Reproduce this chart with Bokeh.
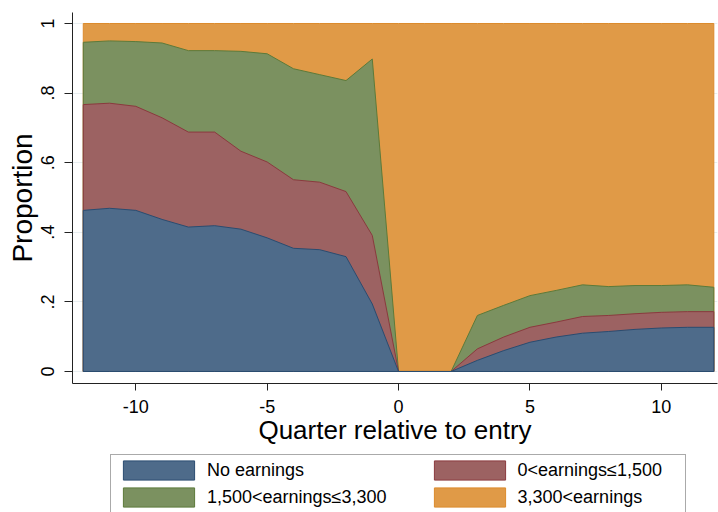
import numpy as np
from bokeh.plotting import figure
from bokeh.layouts import column
from bokeh.models import Legend, LegendItem, FixedTicker, CustomJSTickFormatter
from bokeh.embed import file_html
from bokeh.resources import INLINE

# ---------------- data ----------------
quarters = list(range(-12, 13))
no_earnings = [0.463, 0.469, 0.463, 0.437, 0.415, 0.419, 0.409, 0.384, 0.354, 0.350, 0.330, 0.194,
               0.0, 0.0, 0.0, 0.032, 0.060, 0.084, 0.099, 0.110, 0.115, 0.121, 0.125, 0.127, 0.127]
low_earnings = [0.304, 0.302, 0.299, 0.292, 0.273, 0.269, 0.224, 0.218, 0.197, 0.194, 0.187, 0.197,
                0.0, 0.0, 0.0, 0.033, 0.039, 0.043, 0.043, 0.048, 0.046, 0.045, 0.045, 0.045, 0.045]
mid_earnings = [0.179, 0.179, 0.186, 0.215, 0.234, 0.234, 0.287, 0.311, 0.319, 0.309, 0.319, 0.507,
                0.0, 0.0, 0.0, 0.096, 0.091, 0.091, 0.091, 0.091, 0.083, 0.081, 0.077, 0.077, 0.070]
high_earnings = [0.054, 0.050, 0.052, 0.056, 0.078, 0.078, 0.080, 0.087, 0.130, 0.147, 0.164, 0.102,
                 1.0, 1.0, 1.0, 0.839, 0.810, 0.782, 0.767, 0.751, 0.756, 0.753, 0.753, 0.751, 0.758]
categories = ["No earnings", "0<earnings\u22641,500", "1,500<earnings\u22643,300", "3,300<earnings"]
x_ticks = [-10, -5, 0, 5, 10]
x_tick_labels = ["-10", "-5", "0", "5", "10"]
y_ticks = [0, 0.2, 0.4, 0.6, 0.8, 1]
y_tick_labels = ["0", ".2", ".4", ".6", ".8", "1"]
x_title = "Quarter relative to entry"
y_title = "Proportion"

fills = ["#4e6b8a", "#9c6262", "#7b9160", "#e09a47"]
lines = ["#2a4c70", "#8a3a3e", "#5c7a3a", "#dc8a2c"]

FONT = "Liberation Sans"

p = figure(width=718, height=449, x_range=(-12.41, 12.14), y_range=(-0.0345, 1.0316),
           output_backend="svg", toolbar_location=None,
           min_border_left=72, min_border_right=1, min_border_top=12, min_border_bottom=66)
p.outline_line_color = None
p.background_fill_color = "white"
p.border_fill_color = "white"

series = [no_earnings, low_earnings, mid_earnings, high_earnings]
cum = np.cumsum(np.array(series), axis=0)
xs = quarters + quarters[::-1]
polys = [list(cum[i]) + [0.0] * len(quarters) for i in range(4)]
for i in [3, 2, 1, 0]:
    p.patch(xs, polys[i], fill_color=fills[i], line_color=lines[i], line_width=1)

fmt_code = """
const i = vals.findIndex((v) => Math.abs(v - tick) < 1e-9);
return i >= 0 ? labels[i] : "";
"""

# axes
p.xgrid.grid_line_color = None
p.ygrid.grid_line_color = "#e8eef0"
p.ygrid.ticker = FixedTicker(ticks=y_ticks)

xa = p.xaxis[0]
xa.ticker = FixedTicker(ticks=x_ticks)
xa.formatter = CustomJSTickFormatter(args=dict(vals=x_ticks, labels=x_tick_labels), code=fmt_code)
ya = p.yaxis[0]
ya.ticker = FixedTicker(ticks=y_ticks)
ya.formatter = CustomJSTickFormatter(args=dict(vals=y_ticks, labels=y_tick_labels), code=fmt_code)
ya.major_label_orientation = "vertical"

for ax in (xa, ya):
    ax.axis_line_color = "#222222"
    ax.major_tick_line_color = "#222222"
    ax.minor_tick_line_color = None
    ax.major_tick_in = 0
    ax.major_label_text_font = FONT
    ax.major_label_text_font_size = "18px"
    ax.major_label_text_color = "black"
    ax.axis_label_text_font = FONT
    ax.axis_label_text_font_style = "normal"
    ax.axis_label_text_color = "black"

xa.major_tick_out = 7
xa.major_label_standoff = 9
xa.axis_label = x_title
xa.axis_label_text_font_size = "26px"
xa.axis_label_standoff = -1
ya.major_tick_out = 8
ya.major_label_standoff = 10
ya.axis_label = y_title
ya.axis_label_text_font_size = "28px"
ya.axis_label_standoff = 1

# ---------------- legend strip ----------------
lg = figure(width=718, height=63, output_backend="svg", toolbar_location=None,
            x_axis_location=None, y_axis_location=None,
            min_border_left=0, min_border_right=0, min_border_top=0, min_border_bottom=0)
lg.outline_line_color = None
lg.grid.visible = False
lg.background_fill_color = "white"
lg.border_fill_color = "white"
# hidden copies of the series, used only to draw the legend keys
keys = [lg.patch(xs, polys[i], fill_color=fills[i], line_color=lines[i], line_width=1, visible=False)
        for i in range(4)]

# two columns, row-major; trailing no-break spaces set the column widths
legend_labels = [categories[0], categories[1] + "\u00a0" * 4, categories[2] + "\u00a0" * 7, categories[3]]
legend = Legend(items=[LegendItem(label=c, renderers=[r]) for c, r in zip(legend_labels, keys)],
                orientation="horizontal", ncols=2,
                label_text_font=FONT, label_text_font_size="18px", label_text_color="black",
                glyph_width=89, glyph_height=24, label_standoff=4, padding=3, spacing=3,
                border_line_color="#555555", border_line_width=1,
                background_fill_color="white", background_fill_alpha=1,
                inactive_fill_alpha=0, click_policy="none",
                location=(38, -1), margin=0)
lg.add_layout(legend, "center")

open("out.html", "w").write(file_html(column(p, lg, spacing=0), INLINE))
